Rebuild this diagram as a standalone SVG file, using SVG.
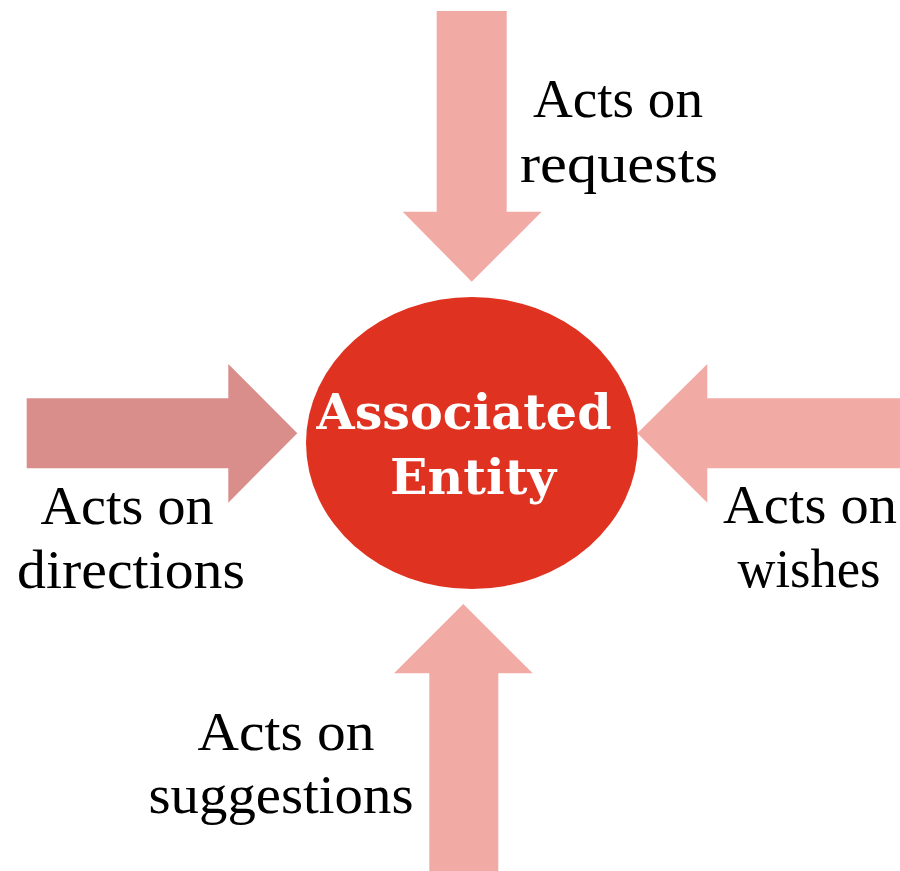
<svg xmlns="http://www.w3.org/2000/svg" width="900" height="871" viewBox="0 0 900 871">
  <style>
    .arrow { fill: #F2AAA5; }
    .arrow.dark { fill: #D98E8C; }
    .label { font-family: "Liberation Serif", "Times New Roman", serif; font-size: 55px; fill: #000; text-anchor: middle; }
    .center-text { font-family: "DejaVu Serif", Georgia, serif; font-weight: bold; font-size: 49px; fill: #fff; text-anchor: middle; }
  </style>
  <rect width="900" height="871" fill="#fff"/>

  <g id="connectors">
    <!-- from top -->
    <polygon id="arrow-requests" class="arrow" points="436.7,11 506.7,11 506.7,211.7 541.7,211.7 471.7,281.7 402.7,211.7 436.7,211.7"/>
    <!-- from left -->
    <polygon id="arrow-directions" class="arrow dark" points="26.7,398.3 228.3,398.3 228.3,364 297.3,433.3 228.3,502.7 228.3,468.3 26.7,468.3"/>
    <!-- from right -->
    <polygon id="arrow-wishes" class="arrow" points="900,398.3 707.3,398.3 707.3,364 637.3,433.3 707.3,502.7 707.3,468.3 900,468.3"/>
    <!-- from bottom -->
    <polygon id="arrow-suggestions" class="arrow" points="429.3,871 498.3,871 498.3,673.3 532.7,673.3 463.3,604 394,673.3 429.3,673.3"/>
  </g>

  <g id="node-entity">
    <ellipse cx="472" cy="443" rx="166" ry="146" fill="#E03220"/>
    <text class="center-text" x="464" y="429" textLength="295" lengthAdjust="spacingAndGlyphs">Associated</text>
    <text class="center-text" x="473" y="494" textLength="166" lengthAdjust="spacingAndGlyphs">Entity</text>
  </g>

  <g id="label-requests">
    <text class="label" x="618" y="117" textLength="170" lengthAdjust="spacingAndGlyphs">Acts on</text>
    <text class="label" x="619" y="182" textLength="198" lengthAdjust="spacingAndGlyphs">requests</text>
  </g>
  <g id="label-directions">
    <text class="label" x="127" y="524" textLength="173" lengthAdjust="spacingAndGlyphs">Acts on</text>
    <text class="label" x="131" y="588" textLength="228" lengthAdjust="spacingAndGlyphs">directions</text>
  </g>
  <g id="label-wishes">
    <text class="label" x="810" y="523" textLength="174" lengthAdjust="spacingAndGlyphs">Acts on</text>
    <text class="label" x="809" y="587" textLength="143" lengthAdjust="spacingAndGlyphs">wishes</text>
  </g>
  <g id="label-suggestions">
    <text class="label" x="286" y="750" textLength="177" lengthAdjust="spacingAndGlyphs">Acts on</text>
    <text class="label" x="281" y="813" textLength="265" lengthAdjust="spacingAndGlyphs">suggestions</text>
  </g>
</svg>
